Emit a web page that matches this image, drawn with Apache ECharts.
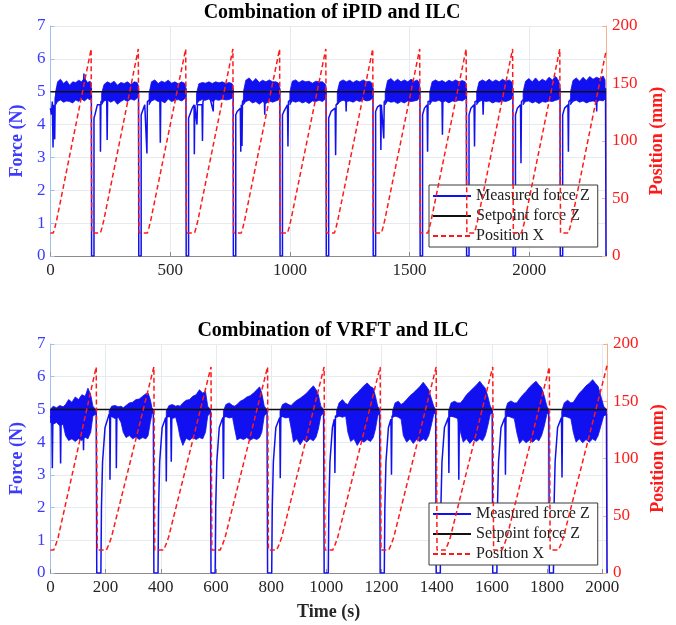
<!DOCTYPE html>
<html>
<head>
<meta charset="utf-8">
<title>Combination of iPID / VRFT and ILC</title>
<script src="https://cdn.jsdelivr.net/npm/echarts@6/dist/echarts.min.js"></script>
<style>
html, body { margin: 0; padding: 0; background: #fff; }
#chart { width: 676px; height: 625px; }
</style>
</head>
<body>
<div id="chart"></div>
<script>
// ---- data ----
var titles = ['Combination of iPID and ILC', 'Combination of VRFT and ILC'];
var legendNames = ['Measured force Z', 'Setpoint force Z', 'Position X'];
var timeMax = [2320, 2017];
var timeTickStep = [500, 200];
var forceTicks = [0, 7, 1];
var positionTicks = [0, 200, 50];
var setpointForce = 5;

// measured force trace, [time s, force N]
var topForce = [
  [0,4.5],[4,4.3],[8,4.7],[11,3.3],[13,4.6],[18,3.55],[20,4.8],[28,5.1],[60,5.0],[100,5.0],[138,5.1],[140,5.55],[142,5.1],[171,5.1],
  [172,0],[182,0],[182,4.2],[186,4.3],[196,4.6],[208,4.6],[209,3.17],[211,4.7],[235,4.8],[237,3.53],[239,4.8],[260,5.0],[320,5.0],[368,5.1],
  [369,0],[379,0],[379,4.3],[384,4.4],[394,4.6],[402,4.6],[403,3.12],[405,4.7],[440,4.9],[457,4.8],[459,3.45],[461,4.8],[500,5.0],[566,5.1],
  [567,0],[577,0],[577,4.2],[583,4.2],[592,4.5],[600,4.6],[601,3.1],[603,4.6],[612,4.0],[614,4.6],[633,4.6],[635,3.5],[637,4.7],[660,5.0],[680,4.4],[682,5.0],[763,5.1],
  [764,0],[774,0],[774,4.3],[780,4.4],[793,4.5],[795,3.17],[797,4.6],[800,3.35],[802,4.7],[830,5.0],[893,4.9],[895,4.3],[897,4.9],[958,5.1],
  [959,0],[969,0],[969,4.3],[975,4.4],[990,4.6],[992,3.33],[994,4.7],[1040,5.0],[1151,5.1],
  [1152,0],[1162,0],[1162,4.2],[1172,4.4],[1189,4.5],[1191,3.07],[1193,4.6],[1233,4.9],[1235,4.4],[1237,4.9],[1347,5.1],
  [1348,0],[1358,0],[1358,4.4],[1366,4.54],[1378,4.6],[1380,3.23],[1382,4.6],[1390,4.6],[1392,3.58],[1394,4.7],[1450,5.0],[1543,5.1],
  [1544,0],[1554,0],[1554,4.3],[1562,4.5],[1573,4.6],[1575,3.17],[1577,4.7],[1635,4.8],[1637,3.69],[1639,4.8],[1700,5.0],[1737,5.1],
  [1738,0],[1748,0],[1748,4.3],[1756,4.5],[1769,4.6],[1771,3.33],[1773,4.7],[1805,4.8],[1807,4.3],[1809,4.8],[1931,5.1],
  [1932,0],[1942,0],[1942,4.3],[1950,4.5],[1963,4.6],[1965,2.82],[1967,4.7],[2010,5.0],[2128,5.1],
  [2129,0],[2139,0],[2139,4.3],[2147,4.5],[2161,4.6],[2163,3.17],[2165,4.7],[2200,5.0],[2279,4.9],[2281,4.4],[2283,4.9],[2318,5.1],[2320,0]
];

// noise band of the measured force, [time s, low N, high N]; null rows split the cycles
var topBand = [
  [22,4.6,5.0],[30,4.7,5.3],[42,4.75,5.38],[55,4.68,5.25],[68,4.72,5.33],[80,4.7,5.2],[93,4.66,5.3],[106,4.75,5.28],[118,4.7,5.35],[130,4.78,5.3],[142,4.72,5.42],[155,4.8,5.28],[166,4.75,5.32],[170,4.85,5.2],[176,null,null],
  [214,4.6,4.95],[224,4.72,5.22],[238,4.75,5.3],[252,4.68,5.25],[266,4.74,5.32],[280,4.62,5.2],[294,4.7,5.28],[308,4.76,5.25],[322,4.7,5.3],[336,4.78,5.22],[350,4.74,5.3],[362,4.8,5.28],[367,4.85,5.2],[372,null,null],
  [412,4.6,4.95],[422,4.72,5.3],[436,4.76,5.36],[450,4.7,5.25],[464,4.72,5.32],[478,4.66,5.28],[492,4.78,5.35],[506,4.7,5.26],[520,4.74,5.3],[534,4.76,5.24],[548,4.72,5.3],[560,4.78,5.26],[565,4.85,5.2],[570,null,null],
  [610,4.6,4.95],[620,4.72,5.24],[634,4.76,5.28],[648,4.74,5.26],[662,4.78,5.3],[676,4.7,5.25],[690,4.76,5.3],[704,4.74,5.27],[718,4.78,5.3],[732,4.75,5.25],[746,4.76,5.28],[758,4.8,5.25],[762,4.85,5.2],[767,null,null],
  [806,4.6,5.0],[816,4.7,5.35],[830,4.74,5.42],[844,4.66,5.3],[858,4.7,5.4],[872,4.62,5.28],[886,4.7,5.35],[900,4.64,5.3],[914,4.72,5.36],[928,4.68,5.3],[942,4.72,5.3],[953,4.75,5.26],[957,4.85,5.2],[962,null,null],
  [1000,4.6,5.0],[1010,4.72,5.32],[1024,4.68,5.36],[1038,4.72,5.28],[1052,4.66,5.34],[1066,4.7,5.3],[1080,4.64,5.32],[1094,4.72,5.26],[1108,4.7,5.32],[1122,4.74,5.3],[1136,4.7,5.3],[1146,4.76,5.24],[1150,4.85,5.2],[1155,null,null],
  [1198,4.6,5.0],[1208,4.7,5.3],[1222,4.74,5.36],[1236,4.7,5.3],[1250,4.72,5.35],[1264,4.68,5.28],[1278,4.74,5.34],[1292,4.7,5.3],[1306,4.76,5.36],[1320,4.72,5.3],[1334,4.74,5.32],[1342,4.78,5.26],[1346,4.85,5.2],[1351,null,null],
  [1398,4.6,5.0],[1408,4.72,5.34],[1422,4.68,5.4],[1436,4.7,5.3],[1450,4.64,5.38],[1464,4.7,5.3],[1478,4.66,5.36],[1492,4.72,5.3],[1506,4.7,5.38],[1520,4.72,5.32],[1532,4.74,5.36],[1538,4.78,5.3],[1542,4.85,5.2],[1547,null,null],
  [1584,4.6,5.0],[1594,4.72,5.3],[1608,4.7,5.36],[1622,4.74,5.3],[1636,4.68,5.34],[1650,4.72,5.28],[1664,4.66,5.35],[1678,4.72,5.3],[1692,4.7,5.36],[1706,4.74,5.3],[1720,4.72,5.34],[1732,4.78,5.3],[1736,4.85,5.2],[1741,null,null],
  [1780,4.6,5.0],[1790,4.7,5.3],[1804,4.74,5.36],[1818,4.7,5.3],[1832,4.72,5.38],[1846,4.66,5.3],[1860,4.7,5.36],[1874,4.68,5.3],[1888,4.72,5.38],[1902,4.7,5.32],[1916,4.74,5.36],[1926,4.78,5.3],[1930,4.85,5.2],[1935,null,null],
  [1974,4.6,5.0],[1984,4.7,5.32],[1998,4.72,5.4],[2012,4.66,5.3],[2026,4.7,5.42],[2040,4.64,5.3],[2054,4.7,5.38],[2068,4.68,5.32],[2082,4.72,5.44],[2096,4.7,5.36],[2110,4.74,5.46],[2122,4.76,5.34],[2127,4.85,5.2],[2132,null,null],
  [2172,4.6,5.0],[2182,4.7,5.34],[2196,4.74,5.42],[2210,4.68,5.32],[2224,4.72,5.44],[2238,4.66,5.34],[2252,4.7,5.46],[2266,4.72,5.38],[2280,4.68,5.44],[2294,4.74,5.4],[2308,4.72,5.48],[2316,4.78,5.36]
];

// position X, [time s, mm]
var topPos = [
  [0,20],[12,20],[19,25],[26,31],[170,180],[173,20],
  [209,20],[216,25],[223,31],[367,180],[370,20],
  [405,20],[412,25],[419,31],[565,180],[568,20],
  [602,20],[609,25],[616,31],[762,180],[765,20],
  [797,20],[804,25],[811,31],[957,180],[960,20],
  [990,20],[997,25],[1004,31],[1150,180],[1153,20],
  [1186,20],[1193,25],[1200,31],[1346,180],[1349,20],
  [1382,20],[1389,25],[1396,31],[1542,180],[1545,20],
  [1576,20],[1583,25],[1590,31],[1736,180],[1739,20],
  [1770,20],[1777,25],[1784,31],[1930,180],[1933,20],
  [1967,20],[1974,25],[1981,31],[2127,180],[2130,20],
  [2163,20],[2170,25],[2177,31],[2320,178]
];

var botForce = [
  [0,4.8],[5,4.7],[7,3.2],[9,4.7],[35,4.8],[37,3.35],[39,4.8],[60,4.8],[118,4.6],[120,3.75],[122,4.6],[166,4.95],
  [168,0],[183,0],[185,2.0],[189,3.4],[198,4.45],[213,4.85],[215,4.75],[216,2.85],[218,4.8],[238,4.85],[239,3.2],[241,4.85],[373,4.95],
  [375,0],[390,0],[392,2.0],[396,3.4],[405,4.45],[418,4.75],[420,2.8],[422,4.8],[436,4.8],[438,3.4],[440,4.8],[580,4.95],
  [582,0],[597,0],[599,2.0],[603,3.4],[612,4.45],[625,4.75],[627,2.87],[629,4.8],[785,4.95],
  [787,0],[802,0],[804,2.0],[808,3.4],[817,4.45],[831,4.75],[833,2.9],[835,4.8],[990,4.95],
  [992,0],[1007,0],[1009,2.0],[1013,3.4],[1022,4.45],[1029,4.7],[1031,3.06],[1033,4.8],[1193,4.95],
  [1195,0],[1210,0],[1212,2.0],[1216,3.4],[1225,4.45],[1234,4.7],[1236,3.0],[1238,4.8],[1396,4.95],
  [1398,0],[1413,0],[1415,2.0],[1419,3.4],[1428,4.45],[1442,4.75],[1444,3.06],[1446,4.8],[1478,4.8],[1480,2.85],[1482,4.8],[1601,4.95],
  [1603,0],[1618,0],[1620,2.0],[1624,3.4],[1633,4.45],[1647,4.75],[1649,3.0],[1651,4.8],[1806,4.95],
  [1808,0],[1823,0],[1825,2.0],[1829,3.4],[1838,4.45],[1852,4.75],[1854,2.92],[1856,4.8],[2015,4.85],[2017,0]
];

var botBand = [
  [0,4.6,5.0],[10,4.55,5.1],[22,4.6,5.05],[34,4.5,5.12],[46,4.55,5.08],[55,4.2,5.15],[66,4.05,5.3],[78,4.1,5.22],[90,4.02,5.38],[102,4.1,5.3],[114,4.05,5.45],[126,4.15,5.4],[136,4.1,5.65],[146,4.3,5.45],[154,4.8,5.1],[164,4.85,5.0],[170,null,null],
  [213,4.75,4.95],[222,4.78,5.1],[234,4.72,5.12],[246,4.76,5.08],[256,4.6,5.1],[264,4.3,5.05],[274,4.14,5.12],[286,4.2,5.2],[298,4.1,5.22],[310,4.16,5.3],[322,4.08,5.32],[334,4.14,5.4],[346,4.1,5.48],[354,4.2,5.5],[362,4.6,5.3],[368,4.85,5.05],[373,4.9,5.0],[377,null,null],
  [420,4.75,4.95],[430,4.78,5.12],[442,4.72,5.15],[454,4.76,5.1],[462,4.5,5.12],[470,4.15,5.1],[480,3.9,5.2],[492,4.12,5.28],[504,4.06,5.3],[516,4.14,5.4],[528,4.08,5.45],[540,4.14,5.6],[552,4.1,5.5],[562,4.3,5.55],[570,4.8,5.1],[580,4.9,5.0],[584,null,null],
  [627,4.75,4.95],[636,4.78,5.15],[648,4.74,5.2],[660,4.76,5.12],[668,4.4,5.1],[676,4.07,5.15],[688,4.12,5.25],[700,4.08,5.3],[712,4.14,5.38],[724,4.06,5.42],[736,4.12,5.5],[748,4.08,5.6],[758,4.14,5.69],[766,4.3,5.5],[775,4.8,5.1],[785,4.9,5.0],[789,null,null],
  [832,4.75,4.95],[841,4.78,5.15],[853,4.74,5.2],[865,4.76,5.14],[873,4.4,5.12],[881,4.0,5.2],[893,4.1,5.28],[905,3.92,5.34],[917,4.08,5.42],[929,4.0,5.5],[941,4.1,5.62],[953,4.04,5.72],[963,4.16,5.6],[971,4.4,5.45],[980,4.8,5.1],[990,4.9,5.0],[994,null,null],
  [1037,4.75,4.95],[1046,4.8,5.2],[1058,4.76,5.3],[1070,4.8,5.18],[1078,4.3,5.15],[1088,4.02,5.3],[1100,4.1,5.42],[1112,3.9,5.5],[1124,4.06,5.62],[1136,4.0,5.72],[1148,4.08,5.81],[1160,4.02,5.7],[1170,4.14,5.65],[1178,4.4,5.4],[1186,4.8,5.1],[1193,4.9,5.0],[1197,null,null],
  [1240,4.75,4.95],[1249,4.8,5.2],[1261,4.76,5.25],[1271,4.7,5.15],[1279,4.2,5.2],[1291,4.0,5.3],[1303,4.1,5.42],[1315,3.96,5.5],[1327,4.08,5.6],[1339,4.02,5.7],[1351,4.1,5.83],[1361,4.04,5.72],[1371,4.2,5.6],[1380,4.5,5.35],[1389,4.85,5.1],[1396,4.9,5.0],[1400,null,null],
  [1443,4.75,4.95],[1452,4.8,5.2],[1464,4.76,5.25],[1476,4.72,5.2],[1486,4.3,5.2],[1496,4.0,5.3],[1508,4.1,5.45],[1520,3.96,5.55],[1532,4.08,5.65],[1544,4.02,5.75],[1556,4.1,5.86],[1566,4.04,5.75],[1576,4.2,5.65],[1585,4.5,5.4],[1594,4.85,5.1],[1601,4.9,5.0],[1605,null,null],
  [1648,4.75,4.95],[1657,4.8,5.2],[1669,4.76,5.26],[1681,4.72,5.2],[1690,4.3,5.2],[1700,3.96,5.32],[1712,4.08,5.45],[1724,3.98,5.55],[1736,4.06,5.68],[1748,4.0,5.78],[1760,4.1,5.86],[1770,4.04,5.75],[1780,4.2,5.66],[1790,4.5,5.4],[1799,4.85,5.1],[1806,4.9,5.0],[1810,null,null],
  [1853,4.75,4.95],[1862,4.8,5.2],[1874,4.76,5.28],[1886,4.72,5.2],[1895,4.3,5.22],[1905,4.0,5.35],[1917,4.1,5.5],[1929,3.98,5.6],[1941,4.08,5.72],[1953,4.0,5.8],[1965,4.1,5.91],[1975,4.04,5.8],[1985,4.2,5.7],[1995,4.5,5.4],[2005,4.8,5.1],[2015,4.85,5.0]
];

var botPos = [
  [0,20],[12,20],[20,25],[28,31],[166,180],[170,20],
  [203,20],[212,25],[221,31],[375,180],[378,20],
  [410,20],[419,25],[428,31],[582,180],[585,20],
  [615,20],[624,25],[633,31],[787,180],[790,20],
  [820,20],[829,25],[838,31],[992,180],[995,20],
  [1023,20],[1032,25],[1041,31],[1195,180],[1198,20],
  [1226,20],[1235,25],[1244,31],[1398,180],[1401,20],
  [1431,20],[1440,25],[1449,31],[1603,180],[1606,20],
  [1636,20],[1645,25],[1654,31],[1808,180],[1811,20],
  [1841,20],[1850,25],[1859,31],[2017,181]
];

// ---- styling ----
var FONT = '"Liberation Serif", "Times New Roman", serif';
var BLUE = '#1010f0';
var BLUE_TXT = '#3b3bff';
var RED = '#ff1a1a';
var grids = [
  { left: 48, top: 26, width: 558, height: 230 },
  { left: 49, top: 344, width: 558, height: 229 }
];

var myChart = echarts.init(document.getElementById('chart'));

// one filled polygon per cycle of the noise band, corners placed through the axes
function bandRenderer(band) {
  return function (params, api) {
    var k = params.dataIndex;
    if (band[k][1] == null || (k > 0 && band[k - 1][1] != null)) return null;
    var upper = [], lower = [];
    for (var j = k; j < band.length && band[j][1] != null; j++) {
      upper.push(api.coord([band[j][0], band[j][2]]));
      lower.push(api.coord([band[j][0], band[j][1]]));
    }
    return {
      type: 'polygon',
      shape: { points: upper.concat(lower.reverse()) },
      style: { fill: BLUE, stroke: BLUE, lineWidth: 0.8 }
    };
  };
}

function buildSeries(i, force, band, pos) {
  return [
    { name: 'band-' + i, type: 'custom', xAxisIndex: i, yAxisIndex: i * 2, silent: true, clip: true,
      data: band.map(function (r) { return [r[0], r[1] == null ? 0 : r[1], r[2] == null ? 0 : r[2]]; }),
      encode: { x: 0, y: [1, 2] }, renderItem: bandRenderer(band), z: 1 },
    { name: legendNames[0], type: 'line', xAxisIndex: i, yAxisIndex: i * 2, data: force,
      symbol: 'none', lineStyle: { color: BLUE, width: 1.5 }, itemStyle: { color: BLUE }, z: 2 },
    { name: legendNames[1], type: 'line', xAxisIndex: i, yAxisIndex: i * 2,
      data: [[0, setpointForce], [timeMax[i], setpointForce]],
      symbol: 'none', lineStyle: { color: '#111', width: 1.5 }, itemStyle: { color: '#111' }, z: 3 },
    { name: legendNames[2], type: 'line', xAxisIndex: i, yAxisIndex: i * 2 + 1, data: pos,
      symbol: 'none', lineStyle: { color: RED, width: 1.5, type: [5, 3] }, itemStyle: { color: RED }, z: 4 }
  ];
}

var xAxes = [], yAxes = [], titleList = [], legends = [];
for (var i = 0; i < 2; i++) {
  var step = timeTickStep[i];
  titleList.push({
    text: titles[i], left: (grids[i].left + grids[i].width / 2), top: grids[i].top - 28,
    textAlign: 'center',
    textStyle: { fontFamily: FONT, fontSize: 20, fontWeight: 'bold', color: '#000' }
  });
  xAxes.push({
    type: 'value', gridIndex: i, min: 0, max: timeMax[i], interval: step,
    name: i === 1 ? 'Time (s)' : '', nameLocation: 'middle', nameGap: 30,
    nameTextStyle: { fontFamily: FONT, fontSize: 18, fontWeight: 'bold', color: '#262626' },
    axisLine: { lineStyle: { color: '#8c8c8c', width: 1 } },
    axisTick: { inside: true, length: 4, lineStyle: { color: '#8c8c8c' } },
    axisLabel: { fontFamily: FONT, fontSize: 17, color: '#262626', margin: 6,
      formatter: (function (s) { return function (v) { return v % s === 0 ? String(v) : ''; }; })(step) },
    splitLine: { show: true, lineStyle: { color: '#e6ebf1', width: 1 } }
  });
  yAxes.push({
    type: 'value', gridIndex: i, position: 'left', min: forceTicks[0], max: forceTicks[1], interval: forceTicks[2],
    name: 'Force (N)', nameLocation: 'middle', nameGap: 19,
    nameTextStyle: { fontFamily: FONT, fontSize: 18, fontWeight: 'bold', color: BLUE_TXT },
    axisLine: { show: true, lineStyle: { color: '#9cc0f0', width: 1 } },
    axisTick: { show: true, inside: true, length: 4, lineStyle: { color: '#9cc0f0' } },
    axisLabel: { fontFamily: FONT, fontSize: 17, color: BLUE_TXT, margin: 5 },
    splitLine: { show: true, lineStyle: { color: '#e6ebf1', width: 1 } }
  });
  yAxes.push({
    type: 'value', gridIndex: i, position: 'right', min: positionTicks[0], max: positionTicks[1], interval: positionTicks[2],
    name: 'Position (mm)', nameLocation: 'middle', nameGap: 34,
    nameTextStyle: { fontFamily: FONT, fontSize: 18, fontWeight: 'bold', color: RED },
    axisLine: { show: true, lineStyle: { color: '#f6b08c', width: 1 } },
    axisTick: { show: true, inside: true, length: 4, lineStyle: { color: '#f6b08c' } },
    axisLabel: { fontFamily: FONT, fontSize: 17, color: RED, margin: 6 },
    splitLine: { show: false }
  });
  legends.push({
    data: legendNames, orient: 'vertical', left: 429, top: i === 0 ? 185 : 503,
    itemWidth: 38, itemHeight: 14, itemGap: 4,
    padding: [3, 8, 3, 3],
    backgroundColor: '#fff', borderColor: '#3a3a3a', borderWidth: 1,
    itemStyle: { opacity: 0 },
    textStyle: { fontFamily: FONT, fontSize: 16, color: '#222' },
    selectedMode: false
  });
}

var option = {
  backgroundColor: '#fff',
  animation: false,
  title: titleList,
  grid: grids,
  xAxis: xAxes,
  yAxis: yAxes,
  legend: legends,
  series: buildSeries(0, topForce, topBand, topPos).concat(buildSeries(1, botForce, botBand, botPos))
};
myChart.setOption(option);
window.addEventListener('resize', function () { myChart.resize(); });
</script>
</body>
</html>
